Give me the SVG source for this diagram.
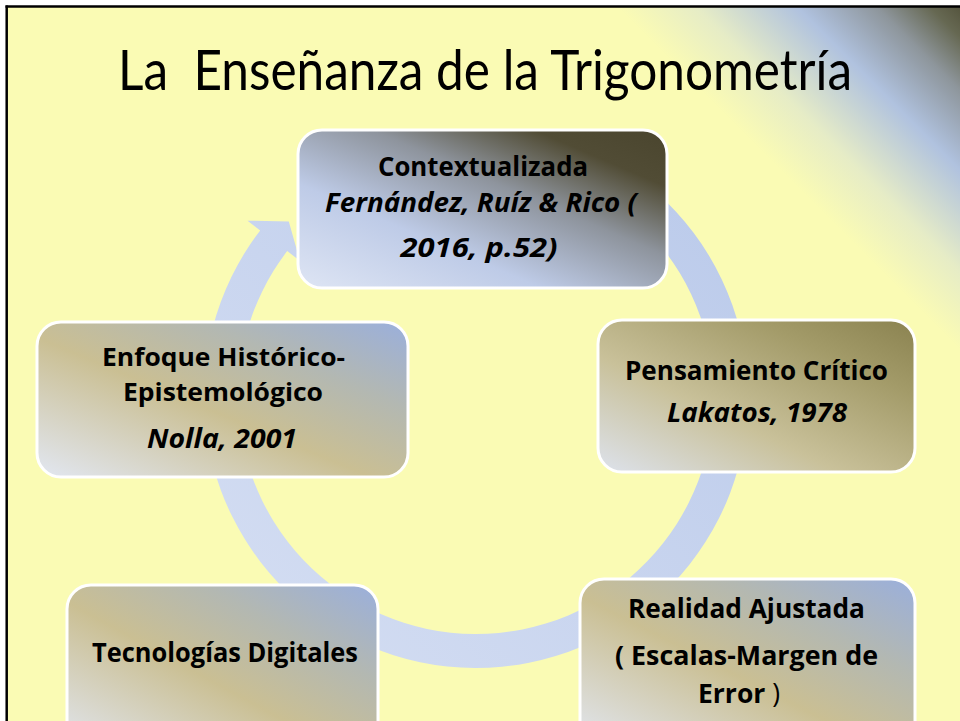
<svg xmlns="http://www.w3.org/2000/svg" width="960" height="721" viewBox="0 0 960 721">
  <defs>
    <linearGradient id="bg" gradientUnits="userSpaceOnUse" x1="610" y1="0" x2="790" y2="-180">
      <stop offset="0" stop-color="#FAFBB4"/>
      <stop offset="0.22" stop-color="#E6ECC6"/>
      <stop offset="0.5" stop-color="#B0C2DF"/>
      <stop offset="0.72" stop-color="#8E969C"/>
      <stop offset="0.87" stop-color="#666852"/>
      <stop offset="1" stop-color="#4C4A33"/>
    </linearGradient>
    <linearGradient id="gCtx" x1="0" y1="1" x2="1" y2="0">
      <stop offset="0" stop-color="#DEE5F4"/>
      <stop offset="0.33" stop-color="#BECBE7"/>
      <stop offset="0.6" stop-color="#8E949D"/>
      <stop offset="0.82" stop-color="#514C35"/>
      <stop offset="1" stop-color="#4A452E"/>
    </linearGradient>
    <linearGradient id="gTan" x1="0" y1="1" x2="1" y2="0">
      <stop offset="0" stop-color="#E2E7F2"/>
      <stop offset="0.45" stop-color="#CABF93"/>
      <stop offset="0.72" stop-color="#B3B8B2"/>
      <stop offset="1" stop-color="#9AAFDC"/>
    </linearGradient>
    <linearGradient id="gOlive" x1="0" y1="1" x2="1" y2="0">
      <stop offset="0" stop-color="#DDE2EC"/>
      <stop offset="0.38" stop-color="#C9C19A"/>
      <stop offset="0.75" stop-color="#A39B69"/>
      <stop offset="1" stop-color="#8A8250"/>
    </linearGradient>
    <linearGradient id="gRing" gradientUnits="userSpaceOnUse" x1="200" y1="700" x2="760" y2="130">
      <stop offset="0" stop-color="#D6DFF3"/>
      <stop offset="1" stop-color="#B9C9EA"/>
    </linearGradient>
  </defs>
  <style>
    .box { stroke: #FFFFFF; stroke-width: 3; }
    .t { font-family: "Open Sans", Lato, "Liberation Sans", sans-serif; fill: #000000; text-anchor: middle; font-size: 26.5px; font-weight: bold; }
    .s { font-size: 25px; }
    .i { font-style: italic; }
    .title { font-family: Lato, "Open Sans", "Liberation Sans", sans-serif; fill: #000000; font-size: 56px; }
  </style>

  <rect x="0" y="0" width="960" height="721" fill="#FFFFFF"/>
  <rect x="7" y="7" width="960" height="721" fill="url(#bg)"/>
  <line x1="5.5" y1="6.5" x2="960" y2="6.5" stroke="#000000" stroke-width="2.5"/>
  <line x1="6.7" y1="5.5" x2="6.7" y2="721" stroke="#000000" stroke-width="2.5"/>

  <text class="title" x="118" y="90" textLength="734" lengthAdjust="spacingAndGlyphs" xml:space="preserve">La  Enseñanza de la Trigonometría</text>

  <g id="connectors">
    <path d="M 612,160.4 A 272 272 0 1 1 260.2,230.4 L 247.5,220.7 L 288.8,221.4 L 299.9,260.8 L 287.2,251.1 A 238 238 0 1 0 595,189.9 Z" fill="url(#gRing)"/>
  </g>

  <g id="node-contextualizada">
    <rect class="box" x="298" y="130" width="369" height="158" rx="24" fill="url(#gCtx)"/>
    <text class="t" x="483" y="176" textLength="210" lengthAdjust="spacingAndGlyphs">Contextualizada</text>
    <text class="t i" x="481" y="212" textLength="312" lengthAdjust="spacingAndGlyphs">Fernández, Ruíz &amp; Rico (</text>
    <text class="t i" x="479" y="257" textLength="157" lengthAdjust="spacingAndGlyphs">2016, p.52)</text>
  </g>

  <g id="node-pensamiento">
    <rect class="box" x="598" y="320" width="317" height="152" rx="24" fill="url(#gOlive)"/>
    <text class="t" x="756.5" y="380" textLength="263" lengthAdjust="spacingAndGlyphs">Pensamiento Crítico</text>
    <text class="t i" x="757" y="422" textLength="180" lengthAdjust="spacingAndGlyphs">Lakatos, 1978</text>
  </g>

  <g id="node-realidad">
    <rect class="box" x="580" y="579" width="335" height="170" rx="24" fill="url(#gTan)"/>
    <text class="t" x="746.5" y="618" textLength="237" lengthAdjust="spacingAndGlyphs">Realidad Ajustada</text>
    <text class="t" x="746.5" y="665" textLength="263" lengthAdjust="spacingAndGlyphs">( Escalas-Margen de</text>
    <text class="t" x="739" y="703" textLength="82" lengthAdjust="spacingAndGlyphs">Error <tspan font-weight="normal">)</tspan></text>
  </g>

  <g id="node-tecnologias">
    <rect class="box" x="67" y="585" width="311" height="170" rx="24" fill="url(#gTan)"/>
    <text class="t" x="225" y="662" textLength="266" lengthAdjust="spacingAndGlyphs">Tecnologías Digitales</text>
  </g>

  <g id="node-enfoque">
    <rect class="box" x="37" y="322" width="371" height="155" rx="24" fill="url(#gTan)"/>
    <text class="t s" x="223.5" y="366" textLength="243" lengthAdjust="spacingAndGlyphs">Enfoque Histórico-</text>
    <text class="t s" x="223" y="400.5" textLength="200" lengthAdjust="spacingAndGlyphs">Epistemológico</text>
    <text class="t i" x="222" y="448" textLength="150" lengthAdjust="spacingAndGlyphs">Nolla, 2001</text>
  </g>
</svg>
